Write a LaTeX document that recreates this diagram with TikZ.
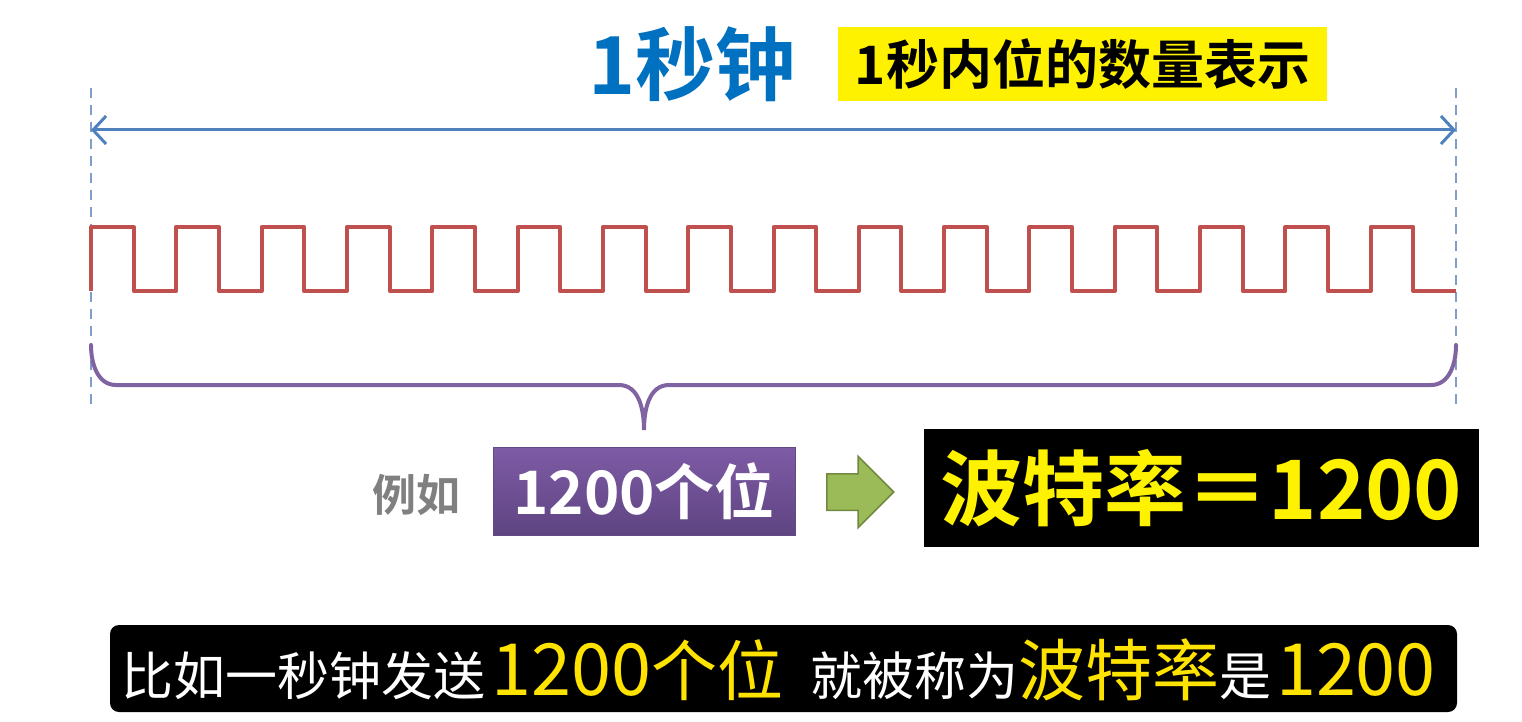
\documentclass[tikz,border=0pt]{standalone}
\usepackage{fontspec}
\setmainfont{Noto Sans CJK SC}[BoldFont={Noto Sans CJK SC Bold}]
\usetikzlibrary{arrows.meta,shapes.arrows}
\definecolor{officeblue}{HTML}{4F81BD}
\definecolor{guideblue}{HTML}{7F9FC8}
\definecolor{titleblue}{HTML}{0070C0}
\definecolor{wavered}{HTML}{C0504D}
\definecolor{bracepurple}{HTML}{8064A2}
\definecolor{boxpurple}{HTML}{7E5BA6}
\definecolor{boxpurpledark}{HTML}{5E4481}
\definecolor{arrowgreen}{HTML}{9BBB59}
\definecolor{arrowgreendark}{HTML}{71893F}
\definecolor{subyellow}{HTML}{FFE300}
\newcommand{\fs}[1]{\fontsize{#1}{#1}\selectfont}
\newcommand{\hl}[2]{{\color{subyellow}\fs{#1}#2}}

\begin{document}
\begin{tikzpicture}[x=1pt,y=-1pt,
    guide/.style={guideblue,line width=2pt,dash pattern=on 10pt off 7pt},
    spanline/.style={officeblue,line width=3pt,{Straight Barb[length=13pt,width=28pt]}-{Straight Barb[length=13pt,width=28pt]}},
    wave/.style={wavered,line width=4pt,line join=round},
    bracepath/.style={bracepurple,line width=4pt,line cap=round},
    hilite/.style={fill=yellow,inner sep=0pt,minimum width=489pt,minimum height=74pt,font=\bfseries\fs{53}},
    bitsbox/.style={top color=boxpurple,bottom color=boxpurpledark,draw=boxpurple!80!black,line width=1pt,text=white,inner sep=0pt,minimum width=302pt,minimum height=88pt,font=\bfseries\fs{60}},
    ratebox/.style={fill=black,text=yellow,inner sep=0pt,minimum width=555pt,minimum height=118pt,font=\bfseries\fs{82}},
    captionbox/.style={fill=black,rounded corners=9pt,inner sep=0pt,minimum width=1347pt,minimum height=87pt}]
        \useasboundingbox (0,0) rectangle (1522,722);
        \coordinate (gTopL) at (91,88);
        \coordinate (gBotL) at (91,407);
        \coordinate (gTopR) at (1456,88);
        \coordinate (gBotR) at (1456,407);
        \coordinate (spanL) at (91,130);
        \coordinate (spanR) at (1456,130);
        \draw[guide] (gTopL)--(gBotL);
        \draw[guide] (gTopR)--(gBotR);
        \draw[spanline] (spanL)--(spanR);
        \node[titleblue,font=\bfseries\fs{80}] (sec) at (692,64) {1秒钟};
        \node[hilite] (note) at (1082.5,64) {1秒内位的数量表示};
        \coordinate (waveStart) at (91,291);
        \draw[wave] (waveStart) -- ++(0,-64)
            \foreach \i in {1,...,15}{ -- ++(42.656,0) -- ++(0,64) -- ++(42.656,0) -- ++(0,-64)}
            -- ++(42.656,0) -- ++(0,64) -- ++(42.656,0);
        \coordinate (braceL) at (91,345);
        \coordinate (braceR) at (1456,345);
        \coordinate (braceTip) at (644,430);
        \draw[bracepath] (braceL) to[out=-90,in=180] (116,385) -- (619,385)
            to[out=0,in=90] (braceTip) to[out=90,in=180] (669,385) -- (1431,385)
            to[out=0,in=-90] (braceR);
        \node[text=black!50,font=\bfseries\fs{44}] (eg) at (416,495) {例如};
        \node[bitsbox] (bits) at (644,491) {1200个位};
        \node[single arrow,fill=arrowgreen,draw=arrowgreendark,line width=1.5pt,
            inner xsep=0pt,inner ysep=17.5pt,single arrow head extend=17.5pt,
            minimum height=67pt,anchor=tail] (toarrow) at (826,492) {};
        \node[ratebox] (rate) at (1201.5,488) {波特率＝1200};
        \node[captionbox] (caption) at (783.5,668.5) {};
        \node[anchor=west,inner sep=0pt,text=white,font=\fs{52}] (captxt) at (121,670)
            {比如一秒钟发送\hspace{6pt}\hl{72}{1200}\hl{66}{个位}\hspace{27pt}就被称为\hl{67}{波特率}是\hspace{5pt}\hl{72}{1200}};
      \end{tikzpicture}
\end{document}
